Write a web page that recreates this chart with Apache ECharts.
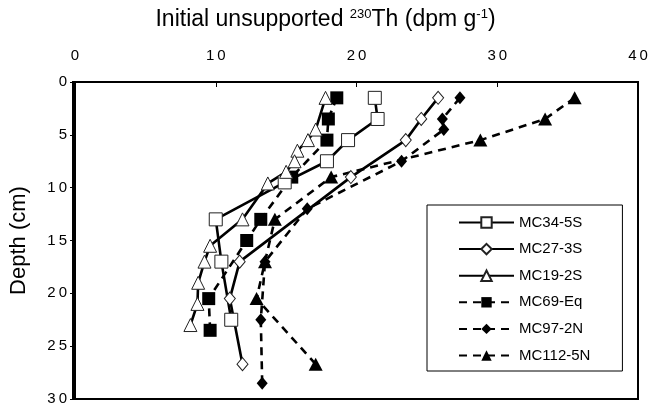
<!DOCTYPE html>
<html><head><meta charset="utf-8">
<script src="https://cdn.jsdelivr.net/npm/echarts@6/dist/echarts.min.js"></script>
<style>html,body{margin:0;padding:0;background:#fff}#c{width:651px;height:409px}</style>
</head><body><div id="c"></div>
<script>
const seriesNames = ['MC34-5S','MC27-3S','MC19-2S','MC69-Eq','MC97-2N','MC112-5N'];
const mc34Th = [21.3,21.5,19.4,17.9,14.9,10.0,10.4,11.1];
const mc34Depth = [1.5,3.5,5.5,7.5,9.5,13,17,22.5];
const mc27Th = [25.8,24.6,23.5,19.6,11.7,11.0,11.9];
const mc27Depth = [1.5,3.5,5.5,9,17,20.5,26.7];
const mc19Th = [17.8,17.1,16.55,15.8,15.6,15.0,13.7,11.9,9.6,9.2,8.75,8.7,8.2];
const mc19Depth = [1.5,4.5,5.5,6.5,7.5,8.5,9.6,13,15.5,17,19,21,23];
const mc69Th = [18.6,18.0,17.9,15.4,13.2,12.2,9.5,9.6];
const mc69Depth = [1.5,3.5,5.5,9,13,15,20.5,23.5];
const mc97Th = [27.35,26.1,26.2,23.2,16.5,13.5,13.2,13.3];
const mc97Depth = [1.5,3.5,4.5,7.5,12,17,22.5,28.5];
const mc112Th = [35.5,33.4,28.8,18.2,14.2,13.5,12.9,17.1];
const mc112Depth = [1.5,3.5,5.5,9,13,17,20.5,26.7];
const xTicks = [0,10,20,30,40];
const yTicks = [0,5,10,15,20,25,30];

const pair = (xs, ys) => xs.map((v,i)=>[v, ys[i]]);
const FONT = 'Liberation Sans';
function mk(name, xs, ys, symbol, size, open, dashed) {
  return {
    name, type: 'line', data: pair(xs, ys),
    symbol, symbolSize: size, showSymbol: true,
    lineStyle: {color: '#000', width: 2.6, type: dashed ? [8, 6] : 'solid'},
    itemStyle: open ? {color: '#fff', borderColor: '#222', borderWidth: 1} : {color: '#000', borderColor: '#000', borderWidth: 0},
    emphasis: {disabled: true}, animation: false, z: open ? 3 : 2
  };
}
const chart = echarts.init(document.getElementById('c'), null, {renderer: 'canvas'});
chart.setOption({
  animation: false,
  backgroundColor: '#fff',
  title: {
    text: 'Initial unsupported {sup|230}Th (dpm g{sup|-1})',
    left: 'center', top: 8, padding: 0,
    textStyle: {fontFamily: FONT, fontSize: 23, fontWeight: 'normal', color: '#000',
      rich: {sup: {fontFamily: FONT, fontSize: 13, verticalAlign: 'top', padding: [0,0,10,0], color: '#000'}}}
  },
  grid: {left: 73, right: 13, top: 82, bottom: 10},
  xAxis: {
    type: 'value', position: 'top', min: 0, max: 40, interval: 10,
    axisLine: {show: true, onZero: false, lineStyle: {color: '#000', width: 2}},
    axisTick: {show: true, inside: true, length: 5, lineStyle: {color: '#000', width: 1}},
    axisLabel: {fontFamily: FONT, fontSize: 15, color: '#000', margin: 19,
      formatter: v => xTicks.includes(v) ? String(v).split('').join('\u2009') : ''},
    splitLine: {show: false}
  },
  yAxis: {
    type: 'value', inverse: true, min: 0, max: 30, interval: 5,
    name: 'Depth (cm)', nameLocation: 'middle', nameGap: 45, nameRotate: 90,
    nameTextStyle: {fontFamily: FONT, fontSize: 22, color: '#000'},
    axisLine: {show: true, onZero: false, lineStyle: {color: '#000', width: 2}},
    axisTick: {show: true, inside: false, length: 5, lineStyle: {color: '#000', width: 1}},
    axisLabel: {fontFamily: FONT, fontSize: 15, color: '#000', margin: 8,
      formatter: v => yTicks.includes(v) ? String(v).split('').join('\u2009') : ''},
    splitLine: {show: false}
  },
  graphic: [{type: 'rect', shape: {x: 73, y: 82, width: 565, height: 317}, style: {fill: 'none', stroke: '#000', lineWidth: 2}, silent: true, z: 0}],
  legend: {
    orient: 'vertical', left: 427, top: 205,
    data: seriesNames,
    itemWidth: 55, itemHeight: 13, itemGap: 11.6,
    padding: [10, 32, 8, 31],
    backgroundColor: '#fff', borderColor: '#000', borderWidth: 1,
    textStyle: {fontFamily: FONT, fontSize: 15, color: '#000'},
    selectedMode: false
  },
  series: [
    mk(seriesNames[0], mc34Th, mc34Depth, 'rect', 13, true, false),
    mk(seriesNames[1], mc27Th, mc27Depth, 'diamond', [11, 13], true, false),
    mk(seriesNames[2], mc19Th, mc19Depth, 'triangle', [13, 13], true, false),
    mk(seriesNames[3], mc69Th, mc69Depth, 'rect', 13, false, true),
    mk(seriesNames[4], mc97Th, mc97Depth, 'diamond', [11, 13], false, true),
    mk(seriesNames[5], mc112Th, mc112Depth, 'triangle', [14, 13], false, true)
  ]
});
</script></body></html>
